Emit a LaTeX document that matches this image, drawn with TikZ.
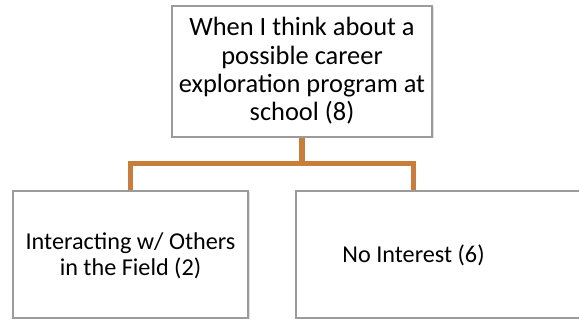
\documentclass[tikz,border=0pt]{standalone}
\usepackage{fontspec}
\setmainfont{Carlito}
\usetikzlibrary{shadows}
\definecolor{conn}{RGB}{200,125,58}
\definecolor{boxline}{RGB}{155,155,155}
\tikzset{
  box/.style={draw=boxline, line width=1.3pt, fill=white, inner sep=0pt,
    drop shadow={opacity=0.25, shadow xshift=1.5pt, shadow yshift=-1.5pt}},
  lbl/.style={align=center, font=\fontsize{26.4}{28.3}\selectfont, inner sep=0pt},
  sublbl/.style={lbl, font=\fontsize{24.2}{26.3}\selectfont},
  conline/.style={draw=conn, line width=5.5pt}
}
\begin{document}
\begin{tikzpicture}[x=1pt,y=-1pt]
\useasboundingbox (0,0) rectangle (579,320);
\node[box, minimum width=260pt, minimum height=131pt] (top) at (302,71.5) {};
\node[lbl] (toptext) at (302,71) {When I think about a\\possible career\\exploration program at\\school (8)};
\node[box, minimum width=235pt, minimum height=127pt] (left) at (130.5,254.5) {};
\node[sublbl] (lefttext) at (130.5,255.5) {Interacting w/ Others\\in the Field (2)};
\node[box, minimum width=304pt, minimum height=127pt] (right) at (448,254.5) {};
\node[sublbl] (righttext) at (413.5,255.5) {No Interest (6)};
\coordinate (mid) at (302,163.5);
\draw[conline] (top.south) -- (mid) -| (left.north);
\draw[conline] (mid) -| (righttext |- right.north);
\end{tikzpicture}
\end{document}
